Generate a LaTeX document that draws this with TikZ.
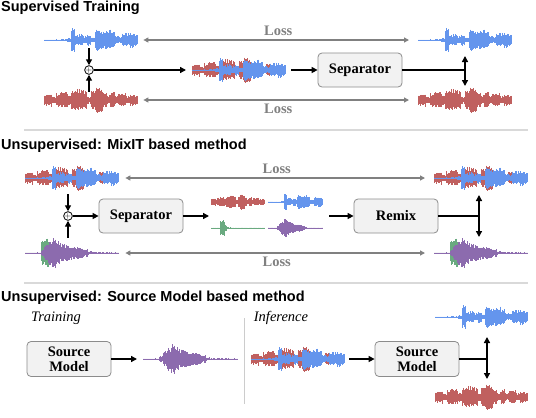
\documentclass[tikz,border=0pt]{standalone}
\usepackage{fontspec}
\setmainfont{Liberation Serif}
\newfontfamily\headfont{Liberation Sans}
\usetikzlibrary{arrows.meta}

\definecolor{wblue}{HTML}{6495ED}
\definecolor{wred}{HTML}{C0605F}
\definecolor{wgreen}{HTML}{6AAA80}
\definecolor{wpurple}{HTML}{8C6BAE}
\definecolor{boxfill}{HTML}{F2F2F2}
\definecolor{boxline}{HTML}{8C8C8C}

\newcommand{\envblue}{0.6,0.6,0.6,0.6,0.6,0.6,2,13,5,6,4,6,3,11,9,10,11,8,4,3,7,7,8,6}
\newcommand{\envred}{6,7,4,7,8,8,5,10,11,11,10,4,11,13,12,8,5,8,4,6,7,4,6,5}
\newcommand{\envpurple}{0.6,0.6,0.6,0.6,3,8,12,16,12,10,9,8,7,6,5,4,2,0.6,0.6,0.6,0.6,0.6,0.6,0.6}
\newcommand{\envgreen}{0.6,0.6,0.6,0.6,13,15,6,2,1,0.6,0.6,0.6,0.6,0.6,0.6,0.6,0.6,0.6,0.6,0.6,0.6,0.6,0.6,0.6}

% name, colour, x, y, width, scale, envelope
\newcommand{\sigwave}[7]{%
  \pgfmathsetseed{4242}
  \node[inner sep=0pt,minimum width=#5pt,minimum height=2pt,anchor=west] (#1) at (#3,#4) {};
  \draw[#2,line width=0.6pt] (#3,#4) -- ++(#5,0);
  \foreach \e [count=\k from 0] in #7 {
    \foreach \j in {0,1,2,3} {
      \pgfmathsetmacro{\hu}{#6*\e*(0.6+0.4*rnd)}
      \pgfmathsetmacro{\hd}{#6*\e*(0.6+0.4*rnd)}
      \draw[#2,line width=1.2pt] ({#3+(4*\k+\j+0.5)*#5/96},{#4-\hu}) -- ++(0,{\hu+\hd});
    }
  }
}

\begin{document}
\begin{tikzpicture}[x=1pt,y=-1pt,
  every node/.style={font=\fontsize{14.5}{15}\selectfont},
  title/.style={anchor=west,inner sep=1pt,font=\headfont\bfseries\fontsize{14.5}{16}\selectfont},
  block/.style={draw=boxline,fill=boxfill,rounded corners=4pt,line width=0.8pt,minimum width=84pt,minimum height=34pt,align=center,font=\bfseries\fontsize{14.5}{15}\selectfont},
  arr/.style={line width=1.4pt,-{Triangle[length=6pt,width=6pt]}},
  darr/.style={line width=1.4pt,{Triangle[length=6pt,width=6pt]}-{Triangle[length=6pt,width=6pt]}},
  loss/.style={draw=gray,line width=1.2pt,{Triangle[length=5pt,width=5pt]}-{Triangle[length=5pt,width=5pt]}},
  losstext/.style={text=gray,font=\bfseries\fontsize{14.5}{15}\selectfont},
  stage/.style={font=\fontsize{14.5}{15}\selectfont\itshape},
  rule/.style={draw=gray!30,line width=1.5pt},
  sum/.style={circle,draw,line width=0.8pt,inner sep=0pt,minimum size=8pt,font=\fontsize{8}{8}\selectfont}]
  \useasboundingbox (0,0) rectangle (536,418);

  \node[title] (t1) at (0,8) {Supervised Training};
  \sigwave{s1blue}{wblue}{44}{40}{94}{1}{\envblue}
  \sigwave{s1red}{wred}{44}{100}{94}{1}{\envred}
  \node[sum] (sum1) at (89,70) {$+$};
  \draw[arr] ([yshift=17pt]sum1.north) -- (sum1.north);
  \draw[arr] ([yshift=-17pt]sum1.south) -- (sum1.south);
  \sigwave{s1mixr}{wred}{192}{70}{94}{1}{\envred}
  \sigwave{s1mixb}{wblue}{192}{70}{94}{1}{\envblue}
  \draw[arr,shorten >=6pt] (sum1.east) -- (s1mixr.west);
  \node[block] (sep1) at (360,70) {Separator};
  \draw[arr,shorten <=5pt] (s1mixr.east) -- (sep1.west);
  \coordinate (j1) at (465,70);
  \draw[line width=1.4pt] (sep1.east) -- (j1);
  \draw[darr] ([yshift=14pt]j1) -- ([yshift=-16pt]j1);
  \sigwave{s1outb}{wblue}{418}{40}{94}{1}{\envblue}
  \sigwave{s1outr}{wred}{418}{100}{94}{1}{\envred}
  \draw[loss,shorten <=5pt,shorten >=9pt] (s1blue.east) -- node[losstext,above] {Loss} (s1outb.west);
  \draw[loss,shorten <=5pt,shorten >=9pt] (s1red.east) -- node[losstext,below] {Loss} (s1outr.west);
  \draw[rule] (24,130) -- (528,130);

  \node[title] (t2) at (0,146) {Unsupervised: MixIT based method};
  \sigwave{s2mixr}{wred}{25}{178}{94}{1}{\envred}
  \sigwave{s2mixb}{wblue}{25}{178}{94}{1}{\envblue}
  \sigwave{s2mixg}{wgreen}{25}{253}{94}{1}{\envgreen}
  \sigwave{s2mixp}{wpurple}{25}{253}{94}{1}{\envpurple}
  \node[sum] (sum2) at (68,216) {$+$};
  \draw[arr] ([yshift=17pt]sum2.north) -- (sum2.north);
  \draw[arr] ([yshift=-17pt]sum2.south) -- (sum2.south);
  \node[block] (sep2) at (141,216) {Separator};
  \draw[arr] (sum2.east) -- (sep2.west);
  \sigwave{s2r}{wred}{211}{202}{54}{0.6}{\envred}
  \sigwave{s2b}{wblue}{268}{202}{55}{0.65}{\envblue}
  \sigwave{s2g}{wgreen}{211}{228}{54}{0.55}{\envgreen}
  \sigwave{s2p}{wpurple}{268}{228}{55}{0.6}{\envpurple}
  \draw[arr,shorten >=2pt] (sep2.east) -- (sep2.east -| s2r.west);
  \node[block] (remix) at (396,216) {Remix};
  \draw[arr,shorten <=6pt] (remix.west -| s2b.east) -- (remix.west);
  \coordinate (j2) at (479,216);
  \draw[line width=1.4pt] (remix.east) -- (j2);
  \draw[darr] ([yshift=21pt]j2) -- ([yshift=-21pt]j2);
  \sigwave{s2outr}{wred}{434}{178}{94}{1}{\envred}
  \sigwave{s2outb}{wblue}{434}{178}{94}{1}{\envblue}
  \sigwave{s2outg}{wgreen}{434}{253}{94}{1}{\envgreen}
  \sigwave{s2outp}{wpurple}{434}{253}{94}{1}{\envpurple}
  \draw[loss,shorten <=6pt,shorten >=9pt] (s2mixr.east) -- node[losstext,above] {Loss} (s2outr.west);
  \draw[loss,shorten <=6pt,shorten >=9pt] (s2mixg.east) -- node[losstext,below] {Loss} (s2outg.west);
  \draw[rule] (24,283) -- (528,283);

  \node[title] (t3) at (0,298) {Unsupervised: Source Model based method};
  \node[stage] (train) at (56,318) {Training};
  \node[stage] (infer) at (281,318) {Inference};
  \draw[draw=gray!40,line width=1pt] (244,318) -- (244,404);
  \node[block,minimum height=35pt] (sm1) at (69,359) {Source\\Model};
  \sigwave{s3p}{wpurple}{143}{359}{95}{1}{\envpurple}
  \draw[arr,shorten >=6pt] (sm1.east) -- (s3p.west);
  \sigwave{s3mixr}{wred}{251}{359}{94}{1}{\envred}
  \sigwave{s3mixb}{wblue}{251}{359}{94}{1}{\envblue}
  \node[block,minimum height=35pt] (sm2) at (417,359) {Source\\Model};
  \draw[arr,shorten <=4pt] (s3mixr.east) -- (sm2.west);
  \coordinate (j3) at (487,359);
  \draw[line width=1.4pt] (sm2.east) -- (j3);
  \draw[darr] ([yshift=22pt]j3) -- ([yshift=-20pt]j3);
  \sigwave{s3outb}{wblue}{435}{317}{93}{1}{\envblue}
  \sigwave{s3outr}{wred}{435}{397}{93}{1}{\envred}
\end{tikzpicture}
\end{document}
